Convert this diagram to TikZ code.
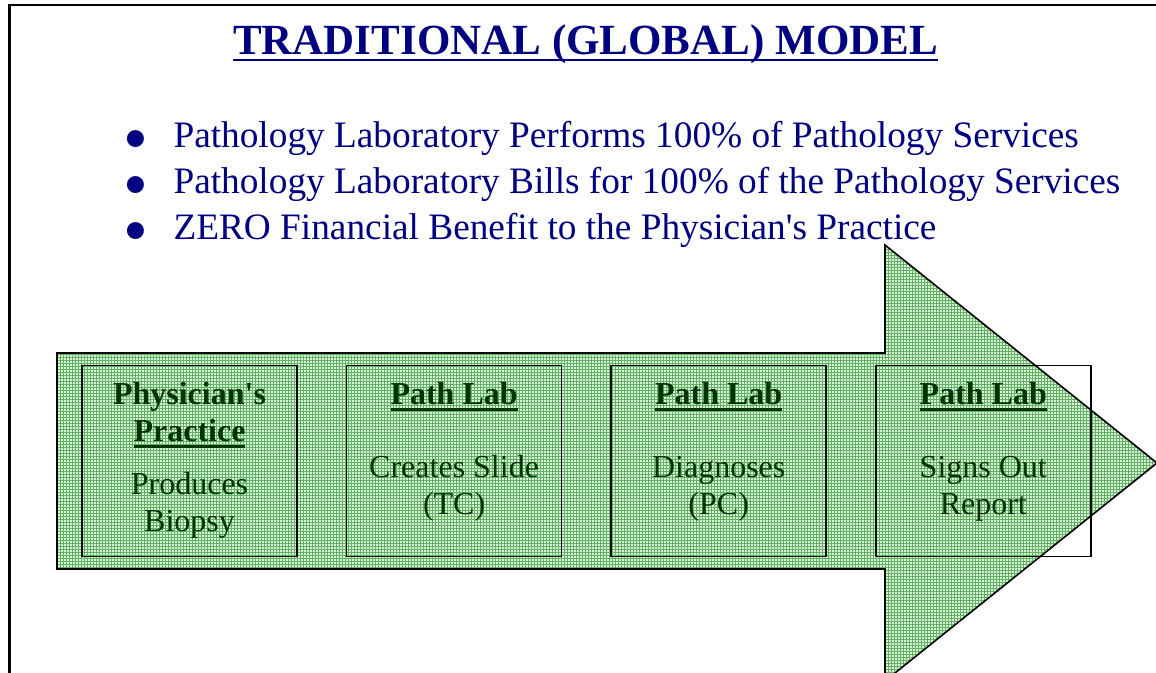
\documentclass[tikz,border=0pt]{standalone}
\usepackage{fontspec}
\setmainfont{Liberation Serif}
\usepackage{xcolor}
\usetikzlibrary{patterns, positioning}

\definecolor{navy}{RGB}{0,0,128}
\definecolor{darkleaf}{RGB}{0,51,0}
\definecolor{gridgreen}{RGB}{95,178,95}
\definecolor{palegreen}{RGB}{222,241,222}

% thick underline for headings
\newcommand{\thickul}[1]{\leavevmode\setbox0\hbox{#1}\rlap{\rule[-6.5pt]{\wd0}{2.8pt}}\box0}
% big round bullet
\newcommand{\pointdot}{\smash{\raisebox{-14.5pt}{\scalebox{1.9}{\textbullet}}}}

\begin{document}
\begin{tikzpicture}[x=1pt, y=1pt,
    stage/.style={draw, line width=1.6pt, minimum width=215pt, minimum height=191pt, inner sep=0pt},
    head/.style={text=darkleaf, font=\fontsize{32}{37}\selectfont\bfseries, align=center, inner sep=0pt, anchor=base},
    body/.style={text=darkleaf, font=\fontsize{32}{37}\selectfont, align=center, inner sep=0pt, anchor=base}]
    \useasboundingbox (0,0) rectangle (1156,672);
    \clip (0,0) rectangle (1156,672);

    % Frame
    \draw[line width=2.5pt] (9.5,-5) -- (9.5,667) -- (1165,667);

    % Title and points
    \node[text=navy, font=\fontsize{43}{50}\selectfont\bfseries, anchor=base, inner sep=0pt] (title) at (585.5,617)
        {\thickul{TRADITIONAL (GLOBAL) MODEL}};
    \node[text=navy, font=\fontsize{37.3}{46}\selectfont, anchor=base west, inner sep=0pt] (points) at (123,524) {%
        \begin{tabular}[t]{@{}l@{\hspace{25.5pt}}l@{}}
            \pointdot & Pathology Laboratory Performs 100\% of Pathology Services\\
            \pointdot & Pathology Laboratory Bills for 100\% of the Pathology Services\\
            \pointdot & ZERO Financial Benefit to the Physician\textquotesingle s Practice
        \end{tabular}};

    % Big arrow
    \draw[line width=1.6pt, preaction={fill=palegreen}, pattern=grid, pattern color=gridgreen]
        (57,319) -- (885,319) -- (885,427) -- (1157,209) -- (885,-9) -- (885,103) -- (57,103) -- cycle;

    % Stages
    \node[stage] (s1) at (189.5,211) {};
    \node[stage, right=48pt of s1] (s2) {};
    \node[stage, right=48pt of s2] (s3) {};
    \node[stage, right=48pt of s3] (s4) {};

    % base sits on the last line of each text
    \node[head] (h1) at ([yshift=-77pt]s1.north) {Physician\textquotesingle s\\\thickul{Practice}};
    \node[head] (h2) at ([yshift=-40pt]s2.north) {\thickul{Path Lab}};
    \node[head] (h3) at ([yshift=-40pt]s3.north) {\thickul{Path Lab}};
    \node[head] (h4) at ([yshift=-40pt]s4.north) {\thickul{Path Lab}};

    \node[body] (b1) at ([yshift=-167pt]s1.north) {Produces\\Biopsy};
    \node[body] (b2) at ([yshift=-150pt]s2.north) {Creates Slide\\(TC)};
    \node[body] (b3) at ([yshift=-150pt]s3.north) {Diagnoses\\(PC)};
    \node[body] (b4) at ([yshift=-150pt]s4.north) {Signs Out\\Report};
\end{tikzpicture}
\end{document}
